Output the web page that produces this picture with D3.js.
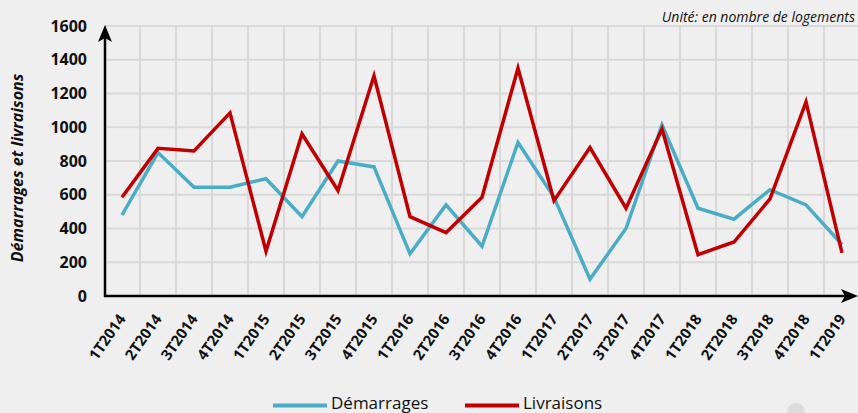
<!DOCTYPE html>
<html lang="fr">
<head>
    <meta charset="UTF-8">
    <title>Démarrages et livraisons</title>
    <script src="https://cdnjs.cloudflare.com/ajax/libs/d3/7.8.5/d3.min.js"></script>
    <style type="text/css">
        body {
            margin: 0;
            background: #efefef;
        }
        svg {
            display: block;
        }
    </style>
</head>
<body>
<div class="container"></div>
</body>
<script>
    const categories = ['1T2014', '2T2014', '3T2014', '4T2014', '1T2015', '2T2015', '3T2015',
        '4T2015', '1T2016', '2T2016', '3T2016', '4T2016', '1T2017', '2T2017', '3T2017',
        '4T2017', '1T2018', '2T2018', '3T2018', '4T2018', '1T2019'];
    const demarrages = [480, 850, 645, 645, 695, 470, 800, 765, 250, 540, 295, 910,
        585, 100, 400, 1015, 520, 455, 630, 540, 305];
    const livraisons = [585, 875, 860, 1085, 265, 960, 625, 1305, 470, 375, 585, 1350,
        565, 880, 520, 990, 245, 320, 575, 1150, 255];
    const yTicks = [0, 200, 400, 600, 800, 1000, 1200, 1400, 1600];

    const series = [
        {name: 'Démarrages', values: demarrages, color: '#4bacc6'},
        {name: 'Livraisons', values: livraisons, color: '#c00000'}
    ];

    const width = 858;
    const height = 413;
    const font = '"Open Sans", sans-serif';

    const svg = d3.select('.container')
        .append('svg')
        .attr('width', width)
        .attr('height', height);

    svg.append('rect')
        .attr('width', width)
        .attr('height', height)
        .attr('fill', '#efefef');

    const xScale = d3.scaleBand()
        .domain(categories)
        .range([104, 860])
        .padding(0);

    const yScale = d3.scaleLinear()
        .domain([0, 1600])
        .range([296, 26]);

    const cx = d => xScale(d) + xScale.bandwidth() / 2;

    // grid
    const grid = svg.append('g').attr('stroke', '#d9d9d9').attr('stroke-width', 2);

    grid.selectAll('line.h')
        .data(yTicks.slice(1))
        .enter()
        .append('line')
        .attr('class', 'h')
        .attr('x1', 105)
        .attr('x2', width)
        .attr('y1', d => yScale(d))
        .attr('y2', d => yScale(d));

    grid.selectAll('line.v')
        .data(categories.slice(1))
        .enter()
        .append('line')
        .attr('class', 'v')
        .attr('x1', d => xScale(d))
        .attr('x2', d => xScale(d))
        .attr('y1', yScale(1600))
        .attr('y2', yScale(0));

    // axes labels
    const yAxis = d3.axisLeft(yScale)
        .tickValues(yTicks)
        .tickFormat(d3.format('d'))
        .tickSize(0)
        .tickPadding(18);

    const gy = svg.append('g')
        .attr('transform', 'translate(105, 0)')
        .call(yAxis);
    gy.select('.domain').remove();
    gy.selectAll('text')
        .attr('font-family', font)
        .attr('font-weight', 700)
        .attr('font-size', 16)
        .attr('fill', '#111');

    const xAxis = d3.axisBottom(xScale).tickSize(0);

    const gx = svg.append('g')
        .attr('transform', 'translate(0, 296)')
        .call(xAxis);
    gx.select('.domain').remove();
    gx.selectAll('text')
        .attr('font-family', font)
        .attr('font-weight', 700)
        .attr('font-size', 15)
        .attr('fill', '#111')
        .attr('text-anchor', 'end')
        .attr('y', 0)
        .attr('dy', '0.35em')
        .attr('transform', 'translate(0, 20) rotate(-55)');

    // lines
    const line = d3.line()
        .x((d, i) => cx(categories[i]))
        .y(d => yScale(d));

    svg.selectAll('path.serie')
        .data(series)
        .enter()
        .append('path')
        .attr('class', 'serie')
        .attr('fill', 'none')
        .attr('stroke', d => d.color)
        .attr('stroke-width', 3.5)
        .attr('stroke-linejoin', 'miter')
        .attr('d', d => line(d.values));

    // axis lines with arrows
    svg.append('line')
        .attr('x1', 105).attr('x2', 105)
        .attr('y1', yScale(0) + 1).attr('y2', 34)
        .attr('stroke', '#000').attr('stroke-width', 2.5);
    svg.append('path')
        .attr('d', 'M105,25 L112,42 L105,38 L98,42 Z')
        .attr('fill', '#000');

    svg.append('line')
        .attr('x1', 104).attr('x2', 849)
        .attr('y1', yScale(0)).attr('y2', yScale(0))
        .attr('stroke', '#000').attr('stroke-width', 2.5);
    svg.append('path')
        .attr('d', 'M858,296 L841,303 L845,296 L841,289 Z')
        .attr('fill', '#000');

    // titles
    svg.append('text')
        .text('Démarrages et livraisons')
        .attr('font-family', font)
        .attr('font-weight', 700)
        .attr('font-style', 'italic')
        .attr('font-size', 16)
        .attr('fill', '#111')
        .attr('text-anchor', 'middle')
        .attr('transform', 'translate(23, 168) rotate(-90)');

    svg.append('text')
        .text('Unité: en nombre de logements')
        .attr('font-family', font)
        .attr('font-style', 'italic')
        .attr('font-size', 14)
        .attr('fill', '#111')
        .attr('text-anchor', 'end')
        .attr('x', 855)
        .attr('y', 22);

    // legend
    const legend = svg.append('g');
    const legendX = [273, 465];

    legend.selectAll('line')
        .data(series)
        .enter()
        .append('line')
        .attr('x1', (d, i) => legendX[i])
        .attr('x2', (d, i) => legendX[i] + 54)
        .attr('y1', 405.5)
        .attr('y2', 405.5)
        .attr('stroke', d => d.color)
        .attr('stroke-width', 4);

    legend.selectAll('text')
        .data(series)
        .enter()
        .append('text')
        .text(d => d.name)
        .attr('font-family', font)
        .attr('font-size', 17)
        .attr('fill', '#111')
        .attr('x', (d, i) => legendX[i] + 58)
        .attr('y', 409);

    // faint decoration
    svg.append('circle')
        .attr('cx', 796).attr('cy', 412).attr('r', 9)
        .attr('fill', '#dcdcdc');
</script>
</html>
